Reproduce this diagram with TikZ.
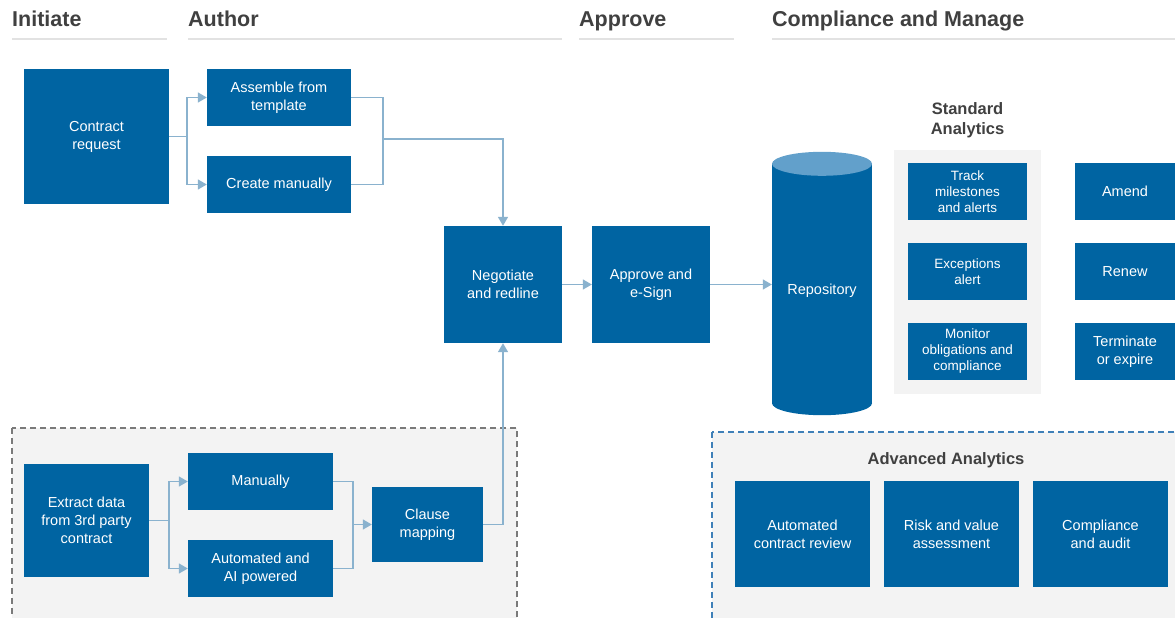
\documentclass[tikz,border=0pt]{standalone}
\usepackage{fontspec}
\setmainfont{Liberation Sans}
\usepackage{tikz}
\usetikzlibrary{arrows.meta,positioning,calc}
\definecolor{boxblue}{HTML}{0064A2}
\definecolor{toplight}{HTML}{62A0CB}
\definecolor{wire}{HTML}{8AB2CE}
\definecolor{head}{HTML}{404040}
\definecolor{rule}{HTML}{E2E2E2}
\definecolor{panelgray}{HTML}{F3F3F3}
\definecolor{dashgray}{HTML}{7A7A7A}
\definecolor{dashblue}{HTML}{3F80B8}
\tikzset{
  block/.style={fill=boxblue, text=white, inner sep=0pt, align=center,
                font=\fontsize{14.5}{18}\selectfont},
  smallblock/.style={block, font=\fontsize{13.5}{16}\selectfont},
  link/.style={line width=1.5pt, draw=wire},
  arrow/.style={link, -{Triangle[length=9pt,width=10pt]}},
  phase/.style={anchor=base west, inner sep=0pt, text=head,
                font=\fontsize{21.5}{24}\selectfont\bfseries},
  phaserule/.style={draw=rule, line width=2pt},
  caption/.style={text=head, align=center, inner sep=0pt,
                  font=\fontsize{16.5}{20}\selectfont\bfseries}
}

\begin{document}
\begin{tikzpicture}[x=1pt,y=-1pt]
        \useasboundingbox[fill=white] (0,0) rectangle (1175,618);

        % phase headers
        \node[phase] (hinit) at (12,27) {Initiate};
        \node[phase] (hauth) at (188,27) {Author};
        \node[phase] (happr) at (579,27) {Approve};
        \node[phase] (hcomp) at (772,27) {Compliance and Manage};
        \draw[phaserule] (12,39) -- (167,39);
        \draw[phaserule] (188,39) -- (562,39);
        \draw[phaserule] (579,39) -- (734,39);
        \draw[phaserule] (772,39) -- (1175,39);

        % panels
        \draw[dashgray, fill=panelgray, line width=1.2pt, dash pattern=on 6pt off 4pt]
          (12,428) rectangle (517,630);
        \draw[dashblue, fill=panelgray, line width=1.2pt, dash pattern=on 6pt off 4pt]
          (712,432) rectangle (1190,630);
        \fill[panelgray] (894,150) rectangle (1041,394);

        % initiate and author
        \node[block, minimum width=145, minimum height=135] (creq) at (96.5,136.5) {Contract\\request};
        \node[block, minimum width=144, minimum height=57] (assemble) at (279,97.5) {Assemble from\\template};
        \node[block, minimum width=144, minimum height=57] (manual) at (279,184.5) {Create manually};
        \node[block, minimum width=118, minimum height=117] (negot) at (503,284.5) {Negotiate\\and redline};
        \node[block, minimum width=118, minimum height=117] (approve) at (651,284.5) {Approve and\\e-Sign};

        % third party intake
        \node[block, minimum width=125, minimum height=113] (extract) at (86.5,520.5) {Extract data\\from 3rd party\\contract};
        \node[block, minimum width=145, minimum height=57] (byhand) at (260.5,481.5) {Manually};
        \node[block, minimum width=145, minimum height=57] (auto) at (260.5,568.5) {Automated and\\AI powered};
        \node[block, minimum width=111, minimum height=75] (clause) at (427.5,524.5) {Clause\\mapping};

        % repository
        \node[minimum width=100, minimum height=239, inner sep=0pt] (repo) at (822,283.5) {};
        \fill[boxblue] (repo.north west) rectangle (repo.south east);
        \fill[boxblue] (repo.south) ellipse [x radius=50, y radius=12];
        \fill[toplight] (repo.north) ellipse [x radius=50, y radius=12];
        \node[text=white, font=\fontsize{14.5}{18}\selectfont] (repotext) at (822,291) {Repository};

        % standard analytics
        \node[caption] (stdcap) at (967.5,120) {Standard\\Analytics};
        \node[smallblock, minimum width=119, minimum height=57] (track) at (967.5,191.5) {Track\\milestones\\and alerts};
        \node[smallblock, minimum width=119, minimum height=57] (except) at (967.5,271.5) {Exceptions\\alert};
        \node[smallblock, minimum width=119, minimum height=57] (monitor) at (967.5,351.5) {Monitor\\obligations and\\compliance};

        \node[block, minimum width=100, minimum height=57] (amend) at (1125,191.5) {Amend};
        \node[block, minimum width=100, minimum height=57] (renew) at (1125,271.5) {Renew};
        \node[block, minimum width=100, minimum height=57] (term) at (1125,351.5) {Terminate\\or expire};

        % advanced analytics
        \node[caption] (advcap) at (946,460) {Advanced Analytics};
        \node[block, minimum width=135, minimum height=106] (review) at (802.5,534) {Automated\\contract review};
        \node[block, minimum width=135, minimum height=106] (risk) at (951.5,534) {Risk and value\\assessment};
        \node[block, minimum width=135, minimum height=106] (audit) at (1100.5,534) {Compliance\\and audit};

        % connectors, top branch
        \coordinate (split1) at (187,136.5);
        \coordinate (join1) at (383,139);
        \draw[link] (creq.east) -- (split1);
        \draw[arrow] (split1) |- (assemble.west);
        \draw[arrow] (split1) |- (manual.west);
        \draw[link] (assemble.east) -| (join1) |- (manual.east);
        \draw[arrow] (join1) -| (negot.north);

        % connectors, bottom branch
        \coordinate (split2) at (169,520.5);
        \coordinate (join2) at (353,524.5);
        \draw[link] (extract.east) -- (split2);
        \draw[arrow] (split2) |- (byhand.west);
        \draw[arrow] (split2) |- (auto.west);
        \draw[link] (byhand.east) -| (join2) |- (auto.east);
        \draw[arrow] (join2) -- (clause.west);
        \draw[arrow] (clause.east) -| (negot.south);

        % main flow
        \draw[arrow] (negot.east) -- (approve.west);
        \draw[arrow] (approve.east) -- (repo.west |- approve.east);
      \end{tikzpicture}
\end{document}
